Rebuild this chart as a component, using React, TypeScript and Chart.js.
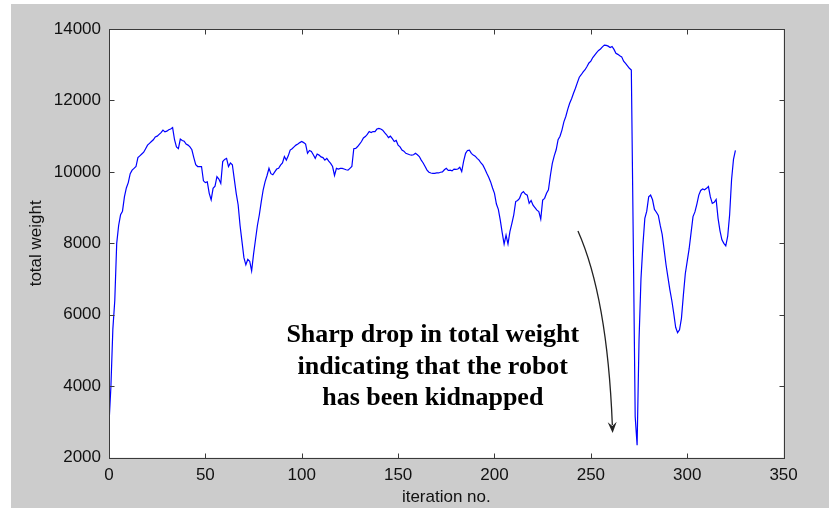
import React, { useEffect, useRef } from "react";
import { Chart, registerables } from "chart.js";

Chart.register(...registerables);

// total weight per iteration (index = iteration number)
const weights: number[] = [
  2950, 4000, 5600, 6400, 8000, 8500, 8800, 8900, 9300, 9550,
  9700, 9950, 10050, 10100, 10150, 10400, 10450, 10500, 10550, 10650,
  10750, 10800, 10850, 10900, 10980, 11000, 11050, 11100, 11170, 11120,
  11140, 11180, 11200, 11240, 10900, 10700, 10650, 10920, 10880, 10860,
  10780, 10750, 10700, 10620, 10400, 10200, 10150, 10150, 10150, 9750,
  9700, 9720, 9400, 9220, 9540, 9600, 9870, 9800, 9680, 10290,
  10350, 10380, 10150, 10250, 10200, 9800, 9400, 9080, 8500, 8050,
  7600, 7400, 7550, 7500, 7230, 7700, 8100, 8500, 8800, 9170,
  9500, 9730, 9900, 10100, 9950, 9920, 10000, 10080, 10100, 10190,
  10250, 10430, 10330, 10450, 10610, 10650, 10700, 10750, 10780, 10820,
  10850, 10820, 10780, 10520, 10600, 10570, 10480, 10380, 10500, 10470,
  10420, 10400, 10330, 10380, 10300, 10240, 10150, 9900, 10100, 10080,
  10100, 10100, 10080, 10060, 10050, 10100, 10150, 10650, 10660, 10710,
  10780, 10850, 10950, 10990, 11050, 11130, 11100, 11130, 11130, 11200,
  11220, 11200, 11170, 11100, 11040, 10960, 11000, 10930, 10850, 10880,
  10750, 10700, 10610, 10580, 10520, 10500, 10480, 10470, 10480, 10520,
  10480, 10430, 10330, 10250, 10150, 10050, 9990, 9970, 9960, 9960,
  9970, 9970, 9990, 10000, 10060, 10100, 10040, 10050, 10030, 10080,
  10070, 10080, 10130, 10010, 10300, 10520, 10600, 10610, 10520, 10470,
  10440, 10380, 10330, 10250, 10190, 10080, 9960, 9850, 9720, 9550,
  9400, 9100, 8950, 8650, 8300, 7980, 8230, 7980, 8330, 8550,
  8800, 9170, 9200, 9260, 9400, 9450, 9380, 9350, 9120, 9200,
  9070, 9000, 8930, 8890, 8680, 9210, 9260, 9400, 9500, 9900,
  10240, 10450, 10620, 10900, 11000, 11170, 11400, 11550, 11750, 11920,
  12050, 12200, 12340, 12500, 12650, 12720, 12800, 12860, 12950, 13050,
  13100, 13200, 13270, 13340, 13400, 13440, 13500, 13550, 13540, 13520,
  13480, 13510, 13430, 13320, 13290, 13250, 13220, 13100, 13040, 12970,
  12900, 12850, 8110, 3150, 2350, 5300, 7000, 7950, 8700, 8900,
  9300, 9350, 9220, 8950, 8870, 8780, 8500, 8250, 7830, 7400,
  7050, 6700, 6400, 6040, 5650, 5500, 5580, 5900, 6550, 7150,
  7500, 7850, 8300, 8750, 8880, 9100, 9350, 9480, 9520, 9500,
  9540, 9590, 9300, 9120, 9150, 9230, 8700, 8350, 8100, 8000,
  7930, 8200, 8800, 9780, 10350, 10600,
];

const xTicks: number[] = [0, 50, 100, 150, 200, 250, 300, 350];
const yTicks: number[] = [2000, 4000, 6000, 8000, 10000, 12000, 14000];
const xTitle = "iteration no.";
const yTitle = "total weight";

const noteLines: string[] = [
  "Sharp drop in total weight",
  "indicating that the robot",
  "has been kidnapped",
];
// annotation anchors in data units (iteration, weight)
const noteX = 168;
const noteY: number[] = [5435, 4540, 3670];
const arrowStart: [number, number] = [243.3, 8345];
const arrowCtrl: [number, number] = [258.5, 6500];
const arrowEnd: [number, number] = [261.3, 2692];

const TICK_FONT = { family: "'Liberation Sans', Arial, Helvetica, sans-serif", size: 17 };

const framePlugin = {
  id: "matlabFrame",
  beforeDraw(chart: any) {
    const { ctx, chartArea: a, width, height } = chart;
    ctx.save();
    ctx.fillStyle = "#ffffff";
    ctx.fillRect(0, 0, width, height);
    ctx.fillStyle = "#cccccc";
    ctx.fillRect(11, 4, width - 11, height - 4);
    ctx.fillStyle = "#ffffff";
    ctx.fillRect(a.left, a.top, a.right - a.left, a.bottom - a.top);
    ctx.restore();
  },
  afterDraw(chart: any) {
    const { ctx, chartArea: a } = chart;
    const xs = chart.scales.x;
    const ys = chart.scales.y;
    ctx.save();
    ctx.strokeStyle = "#3a3a3a";
    ctx.lineWidth = 1;
    const L = Math.round(a.left) + 0.5;
    const R = Math.round(a.right) + 0.5;
    const T = Math.round(a.top) + 0.5;
    const B = Math.round(a.bottom) + 0.5;
    ctx.strokeRect(L, T, R - L, B - T);
    const tl = 5;
    ctx.beginPath();
    for (const v of xTicks) {
      const px = Math.round(xs.getPixelForValue(v)) + 0.5;
      ctx.moveTo(px, B);
      ctx.lineTo(px, B - tl);
      ctx.moveTo(px, T);
      ctx.lineTo(px, T + tl);
    }
    for (const v of yTicks) {
      const py = Math.round(ys.getPixelForValue(v)) + 0.5;
      ctx.moveTo(L, py);
      ctx.lineTo(L + tl, py);
      ctx.moveTo(R, py);
      ctx.lineTo(R - tl, py);
    }
    ctx.stroke();

    // annotation text
    ctx.fillStyle = "#000000";
    ctx.font = "bold 26px 'Liberation Serif', 'Times New Roman', serif";
    ctx.textAlign = "center";
    ctx.textBaseline = "middle";
    const tx = xs.getPixelForValue(noteX);
    noteLines.forEach((line, i) => {
      ctx.fillText(line, tx, ys.getPixelForValue(noteY[i]));
    });

    // curved arrow
    const p0 = [xs.getPixelForValue(arrowStart[0]), ys.getPixelForValue(arrowStart[1])];
    const p1 = [xs.getPixelForValue(arrowCtrl[0]), ys.getPixelForValue(arrowCtrl[1])];
    const p2 = [xs.getPixelForValue(arrowEnd[0]), ys.getPixelForValue(arrowEnd[1])];
    ctx.strokeStyle = "#222222";
    ctx.lineWidth = 1.3;
    ctx.beginPath();
    ctx.moveTo(p0[0], p0[1]);
    ctx.quadraticCurveTo(p1[0], p1[1], p2[0] - 0.3, p2[1] - 8);
    ctx.stroke();
    const ang = Math.atan2(p2[1] - p1[1], p2[0] - p1[0]);
    const len = 11;
    const hw = 4.5;
    const bx = p2[0] - len * Math.cos(ang);
    const by = p2[1] - len * Math.sin(ang);
    const nx = -Math.sin(ang);
    const ny = Math.cos(ang);
    ctx.fillStyle = "#222222";
    ctx.beginPath();
    ctx.moveTo(p2[0], p2[1]);
    ctx.lineTo(bx + nx * hw, by + ny * hw);
    ctx.lineTo(p2[0] - 7 * Math.cos(ang), p2[1] - 7 * Math.sin(ang));
    ctx.lineTo(bx - nx * hw, by - ny * hw);
    ctx.closePath();
    ctx.fill();
    ctx.restore();
  },
};

export default function App() {
  const ref = useRef<HTMLCanvasElement | null>(null);
  useEffect(() => {
    if (!ref.current) return;
    const chart = new Chart(ref.current, {
      type: "line",
      data: {
        datasets: [
          {
            data: weights.map((w, i) => ({ x: i, y: w })),
            borderColor: "#0000ff",
            borderWidth: 1.2,
            pointRadius: 0,
            fill: false,
            tension: 0,
          },
        ],
      },
      options: {
        animation: false,
        responsive: false,
        events: [],
        layout: { padding: { left: 0, top: 29, right: 45.4, bottom: 0 } },
        plugins: { legend: { display: false }, tooltip: { enabled: false } },
        scales: {
          x: {
            type: "linear",
            min: 0,
            max: 350,
            afterBuildTicks: (s: any) => {
              s.ticks = xTicks.map((v) => ({ value: v }));
            },
            afterFit: (s: any) => {
              s.height = 50.3;
            },
            grid: { display: false, drawTicks: false },
            border: { display: false },
            ticks: {
              padding: 7,
              font: TICK_FONT,
              color: "#111111",
              maxRotation: 0,
              autoSkip: false,
              callback: (v: any) => String(v),
            },
            title: {
              display: true,
              text: xTitle,
              font: TICK_FONT,
              color: "#111111",
              padding: { top: 0, bottom: 0 },
            },
          },
          y: {
            type: "linear",
            min: 2000,
            max: 14000,
            afterBuildTicks: (s: any) => {
              s.ticks = yTicks.map((v) => ({ value: v }));
            },
            afterFit: (s: any) => {
              s.width = 109;
            },
            grid: { display: false, drawTicks: false },
            border: { display: false },
            ticks: {
              padding: 8,
              font: TICK_FONT,
              color: "#111111",
              autoSkip: false,
              callback: (v: any) => String(v),
            },
            title: {
              display: true,
              text: yTitle,
              font: TICK_FONT,
              color: "#111111",
              padding: { top: 25.8, bottom: 0 },
            },
          },
        },
      },
      plugins: [framePlugin],
    } as any);
    return () => chart.destroy();
  }, []);
  return (
    <div style={{ position: "absolute", left: 0, top: 0, width: 829, height: 508 }}>
      <canvas ref={ref} width={829} height={508} style={{ display: "block", width: 829, height: 508 }} />
    </div>
  );
}
